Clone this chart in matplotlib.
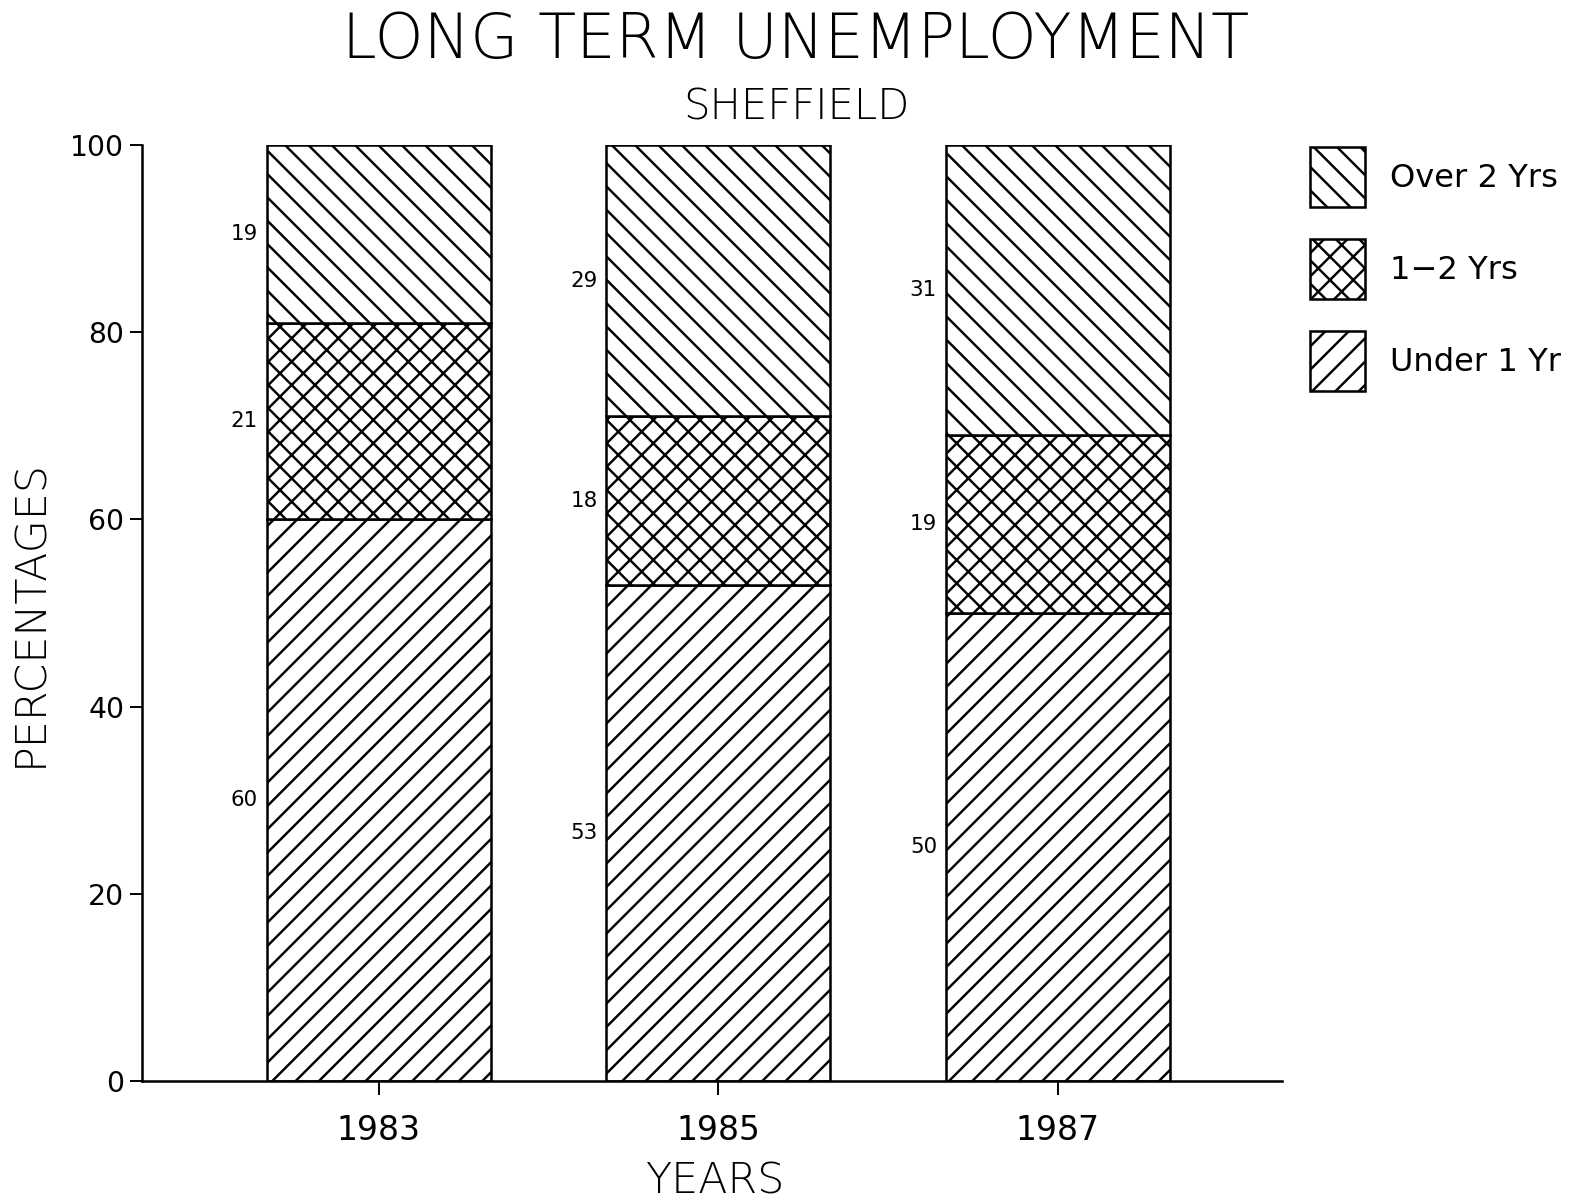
import matplotlib
matplotlib.use("Agg")
import matplotlib.pyplot as plt
from matplotlib.patches import Patch

# data
years = ["1983", "1985", "1987"]
under_1 = [60, 53, 50]
one_two = [21, 18, 19]
over_2 = [19, 29, 31]
yticks = [0, 20, 40, 60, 80, 100]

plt.rcParams["font.family"] = ["DejaVu Sans"]
plt.rcParams["hatch.linewidth"] = 1.25
plt.rcParams["hatch.color"] = "black"

DPI = 140
fig = plt.figure(figsize=(1592 / DPI, 1203 / DPI), dpi=DPI)
ax = fig.add_axes([0.089, 0.1014, 0.716, 0.7781])

x = list(range(len(years)))
w = 0.66
kw = dict(width=w, color="white", edgecolor="black", linewidth=1.3)
ax.bar(x, under_1, hatch="//", **kw)
ax.bar(x, one_two, bottom=under_1, hatch="xx", **kw)
bot3 = [a + b for a, b in zip(under_1, one_two)]
ax.bar(x, over_2, bottom=bot3, hatch="\\\\", **kw)

# value labels to the left of each segment
for i in x:
    segs = [(0, under_1[i]), (under_1[i], one_two[i]), (bot3[i], over_2[i])]
    for base, v in segs:
        ax.text(i - w / 2 - 0.025, base + v / 2, str(v), ha="right", va="center",
                fontsize=11)

ax.set_xlim(-0.698, 2.66)
ax.set_ylim(0, 100)
ax.set_xticks(x)
ax.set_xticklabels(years, fontsize=17)
ax.set_yticks(yticks)
ax.set_yticklabels([str(t) for t in yticks], fontsize=14.5)
ax.tick_params(axis="y", direction="out", length=6, width=1, pad=3)
ax.tick_params(axis="x", direction="out", length=7, width=1, pad=10)
for s in ["top", "right"]:
    ax.spines[s].set_visible(False)
ax.spines["left"].set_linewidth(1.3)
ax.spines["bottom"].set_linewidth(1.3)

ax.set_ylabel("PERCENTAGES", fontsize=22, fontweight="light")
ax.set_xlabel("YEARS", fontsize=22, fontweight="light")
ax.yaxis.set_label_coords(-0.080, 0.5)
ax.xaxis.set_label_coords(0.503, -0.085)

fig.text(0.5, 1 - 41 / 1203, "LONG TERM UNEMPLOYMENT", ha="center", va="center",
         fontsize=32, fontweight="light")
fig.text(0.5, 1 - 107 / 1203, "SHEFFIELD", ha="center", va="center", fontsize=21.5,
         fontweight="light")

handles = [Patch(facecolor="white", edgecolor="black", hatch="\\\\", linewidth=1.3),
           Patch(facecolor="white", edgecolor="black", hatch="xx", linewidth=1.3),
           Patch(facecolor="white", edgecolor="black", hatch="//", linewidth=1.3)]
labels = ["Over 2 Yrs", "1\u22122 Yrs", "Under 1 Yr"]
fig.legend(handles, labels, loc="upper left",
           bbox_to_anchor=(1310 / 1592, 1 - 147 / 1203), frameon=False,
           fontsize=16.5, handlelength=1.7, handleheight=2.5, labelspacing=1.0,
           handletextpad=0.8, borderpad=0, borderaxespad=0)

fig.savefig("out.png", dpi=DPI)
